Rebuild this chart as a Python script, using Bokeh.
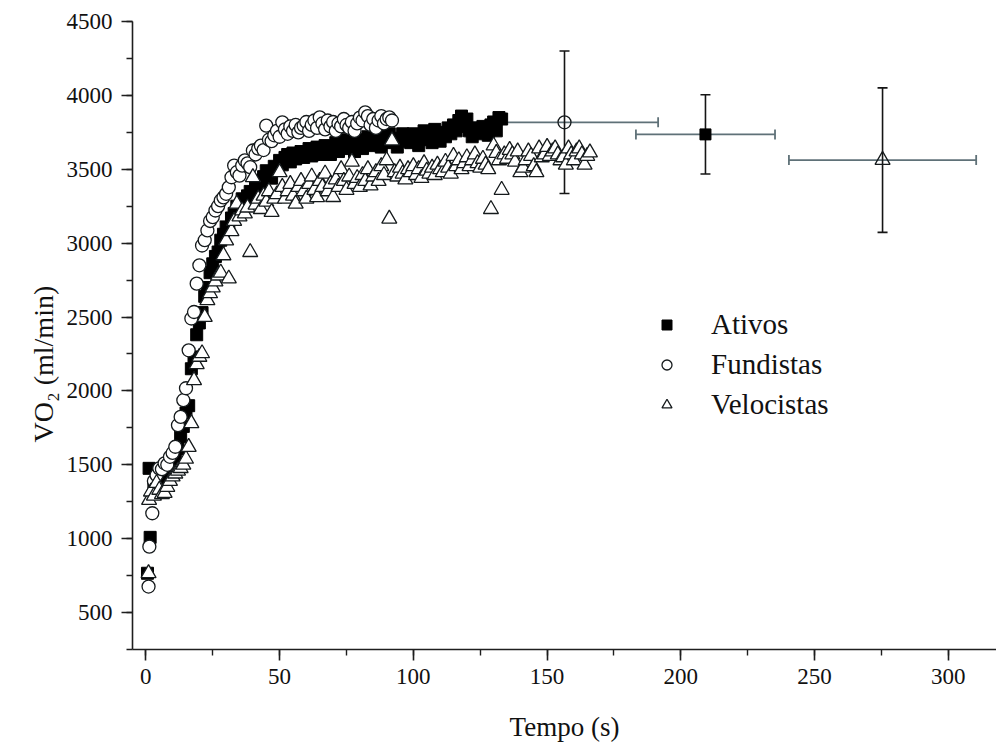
from bokeh.plotting import figure
from bokeh.models import (ColumnDataSource, Whisker, TeeHead, Legend,
                          SingleIntervalTicker, Title, Range1d)
from bokeh.embed import file_html
from bokeh.resources import INLINE

FONT = "Liberation Serif"

# ---------------- data ----------------
tempo_ativos = [0.6, 1.2, 1.6,
    3, 4, 5, 6, 7, 8, 9, 10, 11, 12, 13, 14, 15, 16, 17, 18, 19, 20,
    21, 22, 23, 24, 25, 26, 27, 28, 29, 30, 31, 32, 33, 34, 35, 36, 37, 38, 39, 40,
    41, 42, 43, 44, 45, 46, 47, 48, 49, 50, 51, 52, 53, 54, 55, 56, 57, 58, 59, 60,
    61, 62, 63, 64, 65, 66, 67, 68, 69, 70, 71, 72, 73, 74, 75, 76, 77, 78, 79, 80,
    81, 82, 83, 84, 85, 86, 87, 88, 89, 90, 91, 92, 93, 94, 95, 96, 97, 98, 99, 100,
    101, 102, 103, 104, 105, 106, 107, 108, 109, 110, 111, 112, 113, 114, 115, 116, 117, 118, 119, 120,
    121, 122, 123, 124, 125, 126, 127, 128, 129, 130, 131, 132, 133]
vo2_ativos = [766, 1476, 1009,
    1340, 1370, 1350, 1410, 1440, 1420, 1480, 1530, 1560, 1610, 1690, 1760, 1850, 1900, 2150, 2230, 2380, 2460,
    2530, 2640, 2700, 2800, 2860, 2910, 2940, 3020, 3060, 3110, 3100, 3170, 3200, 3250, 3230, 3300, 3280, 3320, 3350, 3310,
    3380, 3420, 3400, 3450, 3490, 3470, 3440, 3520, 3500, 3560, 3530, 3580, 3600, 3550, 3610, 3570, 3590, 3620, 3580, 3600,
    3640, 3590, 3610, 3650, 3600, 3620, 3660, 3630, 3600, 3640, 3680, 3620, 3650, 3700, 3640, 3660, 3690, 3620, 3700, 3670,
    3640, 3690, 3720, 3660, 3700, 3680, 3730, 3650, 3700, 3690, 3740, 3680, 3710, 3650, 3700, 3740, 3690, 3720, 3680, 3740,
    3700, 3660, 3720, 3760, 3700, 3740, 3680, 3770, 3720, 3690, 3750, 3720, 3780, 3740, 3800, 3760, 3830, 3860, 3790, 3840,
    3760, 3720, 3780, 3750, 3740, 3790, 3770, 3730, 3800, 3820, 3760, 3850, 3840]

tempo_fundistas = [1.0, 1.3, 2.4,
    3, 4, 5, 6, 7, 8, 9, 10, 11, 12, 13, 14, 15, 16, 17, 18, 19, 20,
    21, 22, 23, 24, 25, 26, 27, 28, 29, 30, 31, 32, 33, 34, 35, 36, 37, 38, 39, 40,
    41, 42, 43, 44, 45, 46, 47, 48, 49, 50, 51, 52, 53, 54, 55, 56, 57, 58, 59, 60,
    61, 62, 63, 64, 65, 66, 67, 68, 69, 70, 71, 72, 73, 74, 75, 76, 77, 78, 79, 80,
    81, 82, 83, 84, 85, 86, 87, 88, 89, 90, 91, 92]
vo2_fundistas = [676, 946, 1172,
    1390, 1430, 1476, 1470, 1510, 1500, 1554, 1580, 1622, 1768, 1824, 1937, 2018, 2275, 2490, 2534, 2726, 2850,
    2984, 3020, 3086, 3150, 3176, 3221, 3250, 3289, 3310, 3334, 3378, 3446, 3525, 3480, 3457, 3525, 3560, 3540, 3514, 3627,
    3600, 3640, 3660, 3630, 3795, 3700, 3690, 3730, 3760, 3720, 3818, 3770, 3740, 3790, 3760, 3800, 3750, 3780, 3795, 3820,
    3760, 3800, 3830, 3780, 3851, 3810, 3770, 3830, 3790, 3820, 3760, 3810, 3790, 3840, 3800, 3780, 3820, 3760, 3810, 3850,
    3830, 3885, 3860, 3800, 3840, 3780, 3830, 3860, 3810, 3840, 3851, 3830]

tempo_velocistas = [1.0, 1.2, 1.9,
    3, 4, 5, 6, 7, 8, 9, 10, 11, 12, 13, 14, 15, 16, 17, 18, 19, 20,
    21, 22, 23, 24, 25, 26, 27, 28, 29, 30, 31, 32, 33, 34, 35, 36, 37, 38, 39, 40,
    41, 42, 43, 44, 45, 46, 47, 48, 49, 50, 51, 52, 53, 54, 55, 56, 57, 58, 59, 60,
    61, 62, 63, 64, 65, 66, 67, 68, 69, 70, 71, 72, 73, 74, 75, 76, 77, 78, 79, 80,
    81, 82, 83, 84, 85, 86, 87, 88, 89, 90, 91, 92, 93, 94, 95, 96, 97, 98, 99, 100,
    101, 102, 103, 104, 105, 106, 107, 108, 109, 110, 111, 112, 113, 114, 115, 116, 117, 118, 119, 120,
    121, 122, 123, 124, 125, 126, 127, 128, 129, 130, 131, 132, 133, 134, 135, 136, 137, 138, 139, 140,
    141, 142, 143, 144, 145, 146, 147, 148, 149, 150, 151, 152, 153, 154, 155, 156, 157, 158, 159, 160,
    161, 162, 163, 164, 165, 166]
vo2_velocistas = [766, 1261, 1318,
    1290, 1376, 1330, 1300, 1309, 1350, 1390, 1420, 1440, 1460, 1477, 1500, 1540, 1620, 1781, 2072, 2180, 2230,
    2254, 2500, 2613, 2660, 2700, 2740, 2780, 2800, 2917, 3018, 2760, 3080, 3150, 3266, 3180, 3220, 3200, 3240, 2939, 3446,
    3260, 3300, 3230, 3320, 3280, 3350, 3210, 3300, 3330, 3480, 3380, 3300, 3350, 3400, 3320, 3266, 3380, 3420, 3350, 3300,
    3400, 3450, 3360, 3310, 3420, 3380, 3470, 3350, 3400, 3311, 3430, 3380, 3500, 3420, 3360, 3450, 3550, 3400, 3440, 3380,
    3460, 3420, 3500, 3390, 3450, 3480, 3420, 3520, 3460, 3560, 3165, 3694, 3480, 3450, 3510, 3470, 3430, 3500, 3480, 3520,
    3460, 3500, 3440, 3540, 3490, 3470, 3510, 3460, 3530, 3500, 3480, 3550, 3510, 3470, 3590, 3520, 3560, 3500, 3540, 3580,
    3520, 3560, 3600, 3540, 3510, 3570, 3530, 3500, 3230, 3660, 3610, 3560, 3360, 3600, 3570, 3630, 3600, 3550, 3620, 3480,
    3510, 3560, 3620, 3590, 3520, 3480, 3640, 3580, 3600, 3650, 3590, 3620, 3640, 3600, 3560, 3580, 3530, 3640, 3600, 3560,
    3620, 3640, 3600, 3530, 3590, 3613]

# group means +/- SD (order: Ativos, Fundistas, Velocistas)
grupos = ["Ativos", "Fundistas", "Velocistas"]
media_tempo = [209.2, 156.5, 275.4]
dp_tempo = [26, 35, 35]
media_vo2 = [3736, 3818, 3562]
dp_vo2 = [268, 482, 489]

# ---------------- figure ----------------
p = figure(width=996, height=749, output_backend="svg", toolbar_location=None,
           x_range=Range1d(-5, 318), y_range=Range1d(250, 4500),
           min_border_left=132, min_border_right=0, min_border_top=21,
           min_border_bottom=100)
p.outline_line_color = None
p.xgrid.visible = False
p.ygrid.visible = False
p.background_fill_color = "white"
p.border_fill_color = "white"

p.xaxis.ticker = SingleIntervalTicker(interval=50, num_minor_ticks=2)
p.yaxis.ticker = SingleIntervalTicker(interval=500, num_minor_ticks=2)
for ax in (p.xaxis[0], p.yaxis[0]):
    ax.axis_line_color = "#1e1e1e"
    ax.axis_line_width = 1.6
    ax.major_tick_line_color = "#1e1e1e"
    ax.major_tick_line_width = 1.6
    ax.minor_tick_line_color = "#1e1e1e"
    ax.minor_tick_line_width = 1.4
    ax.major_tick_out = 11
    ax.major_tick_in = 0
    ax.minor_tick_out = 6
    ax.minor_tick_in = 0
    ax.major_label_text_font = FONT
    ax.major_label_text_font_size = "23px"
    ax.major_label_text_color = "#111111"
p.yaxis.major_label_standoff = 9
p.xaxis.major_label_standoff = 8
p.xaxis.axis_label = "Tempo (s)"
p.xaxis.axis_label_text_font = FONT
p.xaxis.axis_label_text_font_size = "27px"
p.xaxis.axis_label_text_font_style = "normal"
p.xaxis.axis_label_text_color = "#111111"
p.xaxis.axis_label_standoff = 25

# y-axis title (placed in the left panel, starting a little above the frame bottom)
p.add_layout(Title(text="VO\u2082 (ml/min)", align="left", offset=207,
                   text_font=FONT, text_font_size="28px", text_font_style="normal",
                   text_color="#111111"), "left")

# error bars (drawn beneath the points)
err = ColumnDataSource(dict(
    x=media_tempo, y=media_vo2,
    xl=[m - d for m, d in zip(media_tempo, dp_tempo)],
    xu=[m + d for m, d in zip(media_tempo, dp_tempo)],
    yl=[m - d for m, d in zip(media_vo2, dp_vo2)],
    yu=[m + d for m, d in zip(media_vo2, dp_vo2)],
))
GRAY = "#5f7178"
p.add_layout(Whisker(source=err, base="y", lower="xl", upper="xu", dimension="width",
                     line_color=GRAY, line_width=1.8, level="underlay",
                     upper_head=TeeHead(size=10, line_color=GRAY, line_width=1.8),
                     lower_head=TeeHead(size=10, line_color=GRAY, line_width=1.8)))
p.add_layout(Whisker(source=err, base="x", lower="yl", upper="yu", dimension="height",
                     line_color="#151515", line_width=1.6, level="underlay",
                     upper_head=TeeHead(size=10, line_color="#151515", line_width=1.6),
                     lower_head=TeeHead(size=10, line_color="#151515", line_width=1.6)))

# scatter series
r_at = p.scatter(tempo_ativos, vo2_ativos, marker="square", size=12,
                 fill_color="black", line_color="black", line_width=1)
r_fu = p.scatter(tempo_fundistas, vo2_fundistas, marker="circle", size=13,
                 fill_color="white", line_color="#151a1c", line_width=1.3)
r_ve = p.scatter(tempo_velocistas, vo2_velocistas, marker="triangle", size=15,
                 fill_color="white", line_color="#151a1c", line_width=1.3)

# means
p.scatter(media_tempo[0:1], media_vo2[0:1], marker="square", size=11,
          fill_color="black", line_color="black", line_width=1)
p.scatter(media_tempo[1:2], media_vo2[1:2], marker="circle", size=13,
          fill_color=None, line_color="#151a1c", line_width=1.3)
p.scatter(media_tempo[2:3], media_vo2[2:3], marker="triangle", size=15,
          fill_color=None, line_color="#151a1c", line_width=1.3)

legend = Legend(items=[(grupos[0], [r_at]), (grupos[1], [r_fu]), (grupos[2], [r_ve])],
                location=(522, 228), orientation="vertical",
                border_line_color=None, background_fill_alpha=0,
                padding=0, margin=0, spacing=7,
                glyph_width=25, glyph_height=25, label_height=25,
                label_standoff=32, label_text_font=FONT,
                label_text_font_size="29px", label_text_color="#111111")
p.add_layout(legend)

html = file_html(p, INLINE, title="VO2")
with open("out.html", "w") as f:
    f.write(html)
